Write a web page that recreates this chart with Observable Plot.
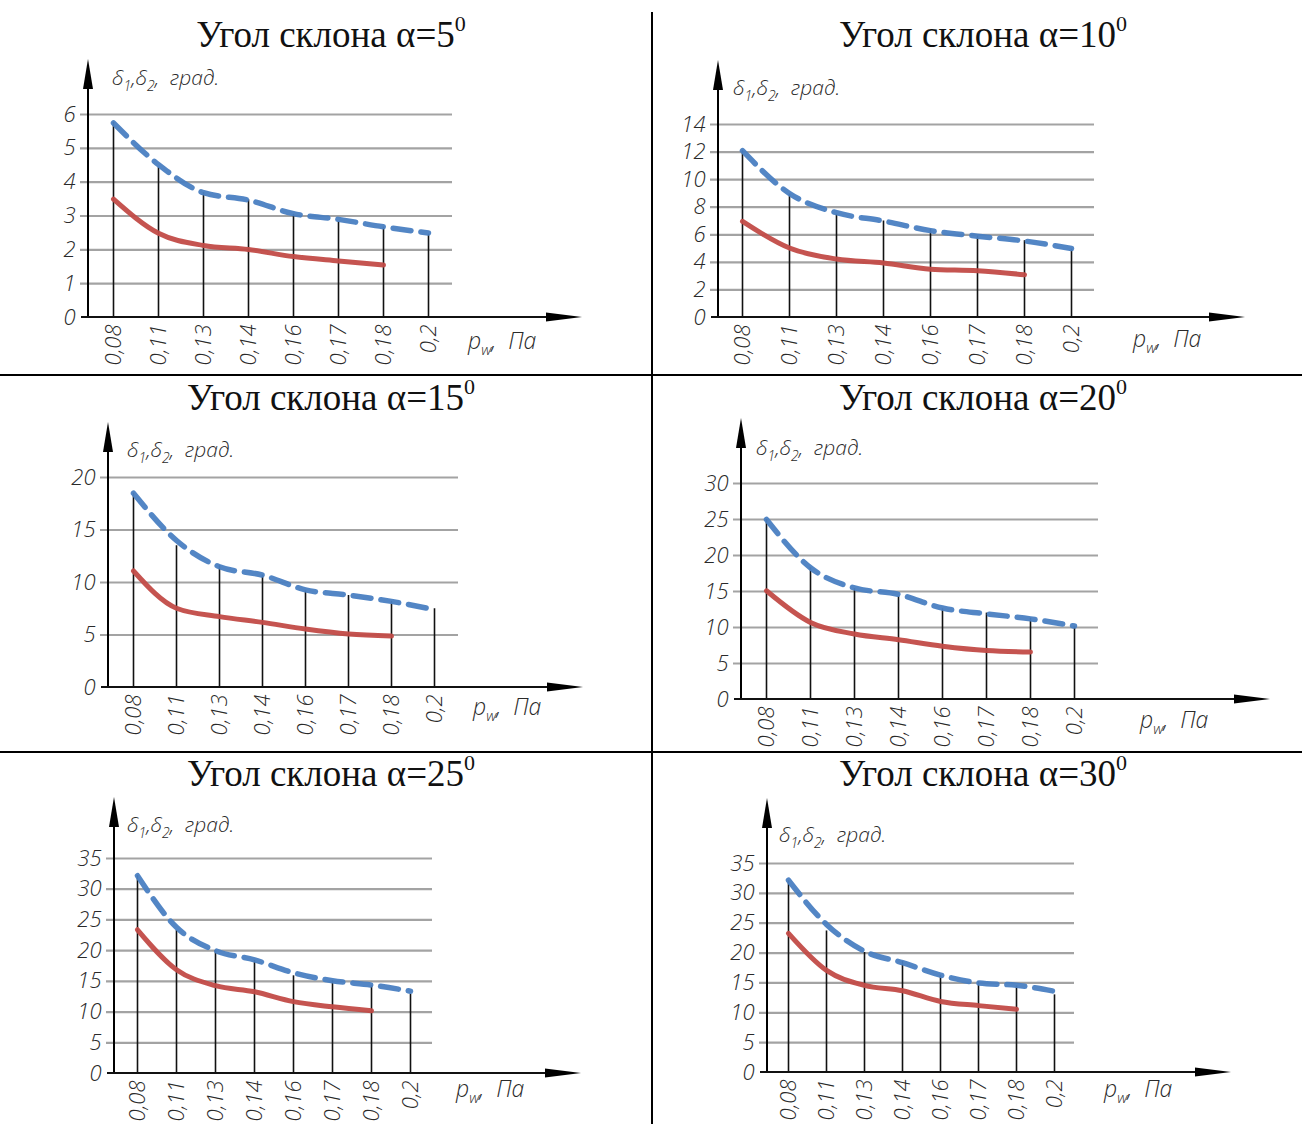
<!DOCTYPE html>
<html><head><meta charset="utf-8">
<script src="https://cdn.jsdelivr.net/npm/d3@7"></script>
<script src="https://cdn.jsdelivr.net/npm/@observablehq/plot@0.6"></script>
<style>
html,body{margin:0;padding:0;background:#fff;overflow:hidden}
#root{position:relative;width:1302px;height:1124px;background:#fff;overflow:hidden}
.cell{position:absolute;width:650px;height:375px}
.cell svg{background:transparent !important;max-width:none !important}
.divider{position:absolute;background:#000}
</style></head>
<body><div id="root"></div>
<script>
// ---- data ----
const pressures = ["0,08","0,11","0,13","0,14","0,16","0,17","0,18","0,2"];
const angles = [5, 10, 15, 20, 25, 30];

const ticks_a5  = [0, 1, 2, 3, 4, 5, 6];
const ticks_a10 = [0, 2, 4, 6, 8, 10, 12, 14];
const ticks_a15 = [0, 5, 10, 15, 20];
const ticks_a20 = [0, 5, 10, 15, 20, 25, 30];
const ticks_a25 = [0, 5, 10, 15, 20, 25, 30, 35];
const ticks_a30 = [0, 5, 10, 15, 20, 25, 30, 35];

// vertical stems at each pressure
const stem_a5  = [5.77, 4.44, 3.69, 3.48, 3.05, 2.83, 2.67, 2.46];
const stem_a10 = [12.1, 8.96, 7.5, 7.0, 6.4, 5.9, 5.57, 4.96];
const stem_a15 = [18.5, 13.5, 11.6, 10.7, 9.2, 8.76, 8.2, 7.5];
const stem_a20 = [25.0, 18.3, 15.4, 14.3, 12.6, 12.0, 11.3, 10.1];
const stem_a25 = [32.2, 23.3, 20.0, 18.4, 15.9, 15.1, 14.3, 12.9];
const stem_a30 = [32.1, 23.7, 20.1, 18.6, 16.3, 15.2, 14.5, 13.0];

// δ2 (blue dashed)
const delta2_a5  = [5.75, 4.52, 3.69, 3.47, 3.07, 2.9, 2.68, 2.5];
const delta2_a10 = [12.1, 9.0, 7.6, 7.0, 6.3, 5.9, 5.55, 5.0];
const delta2_a15 = [18.5, 14.0, 11.5, 10.7, 9.3, 8.8, 8.2, 7.4];
const delta2_a20 = [25.0, 18.3, 15.5, 14.6, 12.7, 11.9, 11.2, 10.2];
const delta2_a25 = [32.2, 23.8, 20.0, 18.5, 16.4, 15.1, 14.4, 13.4];
const delta2_a30 = [32.2, 24.8, 20.3, 18.4, 16.3, 15.0, 14.6, 13.6];

// δ1 (red solid), up to 0,18
const delta1_a5  = [3.5, 2.49, 2.13, 2.01, 1.8, 1.67, 1.55];
const delta1_a10 = [6.97, 5.04, 4.24, 3.95, 3.5, 3.39, 3.1];
const delta1_a15 = [11.1, 7.55, 6.75, 6.2, 5.57, 5.1, 4.9];
const delta1_a20 = [15.1, 10.7, 9.1, 8.3, 7.4, 6.8, 6.6];
const delta1_a25 = [23.4, 16.9, 14.3, 13.3, 11.7, 10.85, 10.2];
const delta1_a30 = [23.3, 17.1, 14.6, 13.7, 11.9, 11.2, 10.6];

const ticksAll  = [ticks_a5, ticks_a10, ticks_a15, ticks_a20, ticks_a25, ticks_a30];
const stemsAll  = [stem_a5, stem_a10, stem_a15, stem_a20, stem_a25, stem_a30];
const delta2All = [delta2_a5, delta2_a10, delta2_a15, delta2_a20, delta2_a25, delta2_a30];
const delta1All = [delta1_a5, delta1_a10, delta1_a15, delta1_a20, delta1_a25, delta1_a30];

// ---- layout (cell-relative) ----
const layout = [
  {left:0,   top:0,   mL:88,  mR:198, mT:114, mB:58, up:55, right:130, ylx:24, yly:-29, plx:16, ply:32, tBase:47},
  {left:652, top:0,   mL:66,  mR:208, mT:124, mB:58, up:64, right:151, ylx:15, yly:-29, plx:39, ply:30, tBase:47},
  {left:0,   top:375, mL:108, mR:192, mT:102, mB:63, up:55, right:125, ylx:19, yly:-20, plx:15, ply:28, tBase:35},
  {left:652, top:375, mL:89,  mR:204, mT:108, mB:51, up:65, right:172, ylx:15, yly:-28, plx:42, ply:29, tBase:35},
  {left:0,   top:750, mL:114, mR:218, mT:108, mB:52, up:61, right:149, ylx:13, yly:-26, plx:24, ply:24, tBase:36},
  {left:652, top:750, mL:115, mR:228, mT:113, mB:53, up:65, right:157, ylx:12, yly:-21, plx:30, ply:25, tBase:36}
];

const GOST = '"Open Sans","DejaVu Sans",sans-serif';
const root = document.getElementById("root");

angles.forEach((a, i) => {
  const L = layout[i];
  const yt = ticksAll[i];
  const stems = pressures.map((p, j) => ({p, v: stemsAll[i][j]}));
  const blue = pressures.map((p, j) => ({p, v: delta2All[i][j]}));
  const red = delta1All[i].map((v, j) => ({p: pressures[j], v}));

  const plot = Plot.plot({
    width: 650, height: 375,
    marginLeft: L.mL, marginRight: L.mR, marginTop: L.mT, marginBottom: L.mB,
    x: {type: "point", domain: pressures, padding: 0.5, tickRotate: -90, tickSize: 0, tickPadding: 7, label: null},
    y: {domain: [0, yt[yt.length - 1]], ticks: yt, tickFormat: d => String(d), tickSize: 0, tickPadding: 13, label: null},
    style: {background: "transparent", fontFamily: GOST, fontStyle: "italic", fontWeight: 300, fontStretch: "90%", fontSize: "22px", color: "#2a2a2a", overflow: "visible"},
    marks: [
      Plot.ruleY(yt.filter(v => v > 0), {stroke: "#a3a3a3", strokeWidth: 2.2, insetLeft: -8}),
      Plot.ruleX(stems, {x: "p", y1: 0, y2: "v", stroke: "#111", strokeWidth: 1.6}),
      Plot.line(blue, {x: "p", y: "v", stroke: "#4a7fc2", strokeWidth: 5.5, strokeDasharray: "18,10", curve: "monotone-x", strokeOpacity: 0.95}),
      Plot.line(red, {x: "p", y: "v", stroke: "#c24b47", strokeWidth: 5, curve: "monotone-x", strokeOpacity: 0.95})
    ]
  });

  const sy = plot.scale("y");
  const x0 = L.mL;
  const y0 = sy.apply(0);
  const yTop = sy.apply(yt[yt.length - 1]);
  const xRight = 650 - L.mR;
  const svg = d3.select(plot);

  // y axis arrow
  const tipY = yTop - L.up;
  svg.append("line").attr("x1", x0).attr("x2", x0).attr("y1", y0 + 1).attr("y2", tipY + 20)
    .attr("stroke", "#000").attr("stroke-width", 2);
  svg.append("path").attr("d", `M${x0},${tipY} L${x0 - 5},${tipY + 30} L${x0 + 5},${tipY + 30} Z`).attr("fill", "#000");
  // x axis arrow
  const tipX = xRight + L.right;
  svg.append("line").attr("x1", x0 - 7).attr("x2", tipX - 20).attr("y1", y0).attr("y2", y0)
    .attr("stroke", "#111").attr("stroke-width", 2);
  svg.append("path").attr("d", `M${tipX},${y0} L${tipX - 36},${y0 - 4.5} L${tipX - 36},${y0 + 4.5} Z`).attr("fill", "#000");

  const textStyle = sel => sel.attr("text-anchor", "start")
    .style("font-family", GOST).style("font-style", "italic").style("font-weight", 300)
    .style("font-stretch", "90%").attr("fill", "#2a2a2a");

  // y axis label δ1,δ2, град.
  const yl = svg.append("text").attr("x", x0 + L.ylx).attr("y", yTop + L.yly).call(textStyle).style("font-size", "21px");
  yl.append("tspan").text("δ");
  yl.append("tspan").attr("dy", 6).style("font-size", "14px").text("1");
  yl.append("tspan").attr("dy", -6).text(",δ");
  yl.append("tspan").attr("dy", 6).style("font-size", "14px").text("2");
  yl.append("tspan").attr("dy", -6).text(",  град.");

  // x axis label p_w, Па
  const xl = svg.append("text").attr("x", xRight + L.plx).attr("y", y0 + L.ply).call(textStyle).style("font-size", "23px");
  xl.append("tspan").text("p");
  xl.append("tspan").attr("dy", 6).style("font-size", "15px").text("w");
  xl.append("tspan").attr("dy", -6).text(",  Па");

  // title
  const tt = svg.append("text").attr("x", 331).attr("y", L.tBase).attr("text-anchor", "middle")
    .style("font-family", '"Liberation Serif","Times New Roman",serif').style("font-size", "37px")
    .style("font-style", "normal").style("font-weight", 400).style("font-stretch", "normal").attr("fill", "#111");
  tt.append("tspan").text(`Угол склона α=${a}`);
  tt.append("tspan").attr("dy", -16).style("font-size", "22px").text("0");

  const cell = document.createElement("div");
  cell.className = "cell";
  cell.style.left = L.left + "px";
  cell.style.top = L.top + "px";
  cell.appendChild(plot);
  root.appendChild(cell);
});

// dividers
[
  {l: 651, t: 12, w: 2, h: 1112},
  {l: 0, t: 374, w: 1302, h: 2},
  {l: 0, t: 751, w: 1302, h: 2}
].forEach(d => {
  const el = document.createElement("div");
  el.className = "divider";
  el.style.left = d.l + "px"; el.style.top = d.t + "px";
  el.style.width = d.w + "px"; el.style.height = d.h + "px";
  root.appendChild(el);
});
</script>
</body></html>
